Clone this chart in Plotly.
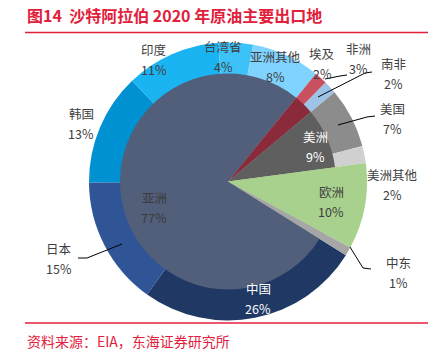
import plotly.graph_objects as go

# ---- data ----
inner_labels = ['亚洲', '非洲', '美洲', '欧洲', '中东']
inner_values = [77, 3, 9, 10, 1]
inner_text = ['77%', '3%', '9%', '10%', '1%']

outer_labels = ['中国', '日本', '韩国', '印度', '台湾省', '亚洲其他',
                '埃及', '南非', '美国', '美洲其他', '欧洲', '中东']
outer_values = [26, 15, 13, 11, 4, 8, 1.5, 1.5, 7, 2, 10, 1]
outer_text = ['26%', '15%', '13%', '11%', '4%', '8%',
              '2%', '2%', '7%', '2%', '10%', '1%']

# ---- styles ----
inner_colors = ['#515F7B', '#8B2A3A', '#5F5F5F', '#A9D18E', '#A6A6A6']
outer_colors = ['#1F3864', '#2F5597', '#0091D2', '#1AB4F2', '#3CC2F7', '#7FD3FF',
                '#C8505F', '#9DC3E6', '#8C8C8C', '#D0D0D0', '#A9D18E', '#A6A6A6']

RED = '#E2203B'
TXT = '#404040'
FONT = 'Noto Sans CJK SC'

# label positions in pixels (name line centre)
label_pos = {
    '印度': (154, 49, TXT), '台湾省': (223, 46, TXT), '亚洲其他': (275, 56, TXT),
    '埃及': (322, 53, TXT), '非洲': (358, 48, TXT), '南非': (393, 63, TXT),
    '美国': (392, 108, TXT), '美洲': (315, 136, 'white'), '美洲其他': (392, 174, TXT),
    '欧洲': (331, 191, TXT), '中东': (398, 262, TXT), '中国': (258, 288, 'white'),
    '日本': (59, 248, TXT), '韩国': (81, 113, TXT), '亚洲': (154, 197, '#3A3A3A'),
}
leaders = [
    'M 78 258 L 87 258 L 122 244',
    'M 350 247 L 363 268 L 371 269',
    'M 372 72 L 365 73 L 318 97',
    'M 347 75 L 340 76 L 325 79',
    'M 375 116 L 367 117 L 338 125',
]

W, H = 445, 356
cx, cy, R_out, R_in = 228, 181.5, 139, 108


def dom(r):
    return dict(x=[(cx - r) / W, (cx + r) / W], y=[(H - cy - r) / H, (H - cy + r) / H])


fig = go.Figure()
fig.add_trace(go.Pie(labels=outer_labels, values=outer_values, sort=False,
                     direction='clockwise', rotation=122, textinfo='none',
                     marker=dict(colors=outer_colors, line=dict(width=0)),
                     domain=dom(R_out), showlegend=False, hoverinfo='label+text',
                     text=outer_text))
fig.add_trace(go.Pie(labels=inner_labels, values=inner_values, sort=False,
                     direction='clockwise', rotation=122, textinfo='none',
                     marker=dict(colors=inner_colors, line=dict(width=0)),
                     domain=dom(R_in), showlegend=False, hoverinfo='label+text',
                     text=inner_text))

pct = dict(zip(outer_labels, outer_text))
pct.update(dict(zip(inner_labels, inner_text)))

ann = []
for name, (x, y, col) in label_pos.items():
    ann.append(dict(x=x, y=y, xref='x', yref='y', text=name, showarrow=False,
                    font=dict(family=FONT, size=12.5, color=col)))
    ann.append(dict(x=x, y=y + 20.5, xref='x', yref='y', text=pct[name], showarrow=False,
                    font=dict(family=FONT, size=12.5, color=col)))

ann.append(dict(x=25, y=15, xref='x', yref='y', xanchor='left', showarrow=False,
                text='<b>图14  沙特阿拉伯 2020 年原油主要出口地</b>',
                font=dict(family=FONT, size=16, color=RED)))
ann.append(dict(x=25, y=341, xref='x', yref='y', xanchor='left', showarrow=False,
                text='资料来源：EIA，东海证券研究所',
                font=dict(family=FONT, size=14, color=RED)))

shapes = [dict(type='path', path=p, xref='x', yref='y',
               line=dict(color='black', width=1)) for p in leaders]
shapes.append(dict(type='line', x0=25, x1=428, y0=32.5, y1=32.5, xref='x', yref='y',
                   line=dict(color=RED, width=1.5)))
shapes.append(dict(type='line', x0=25, x1=428, y0=323, y1=323, xref='x', yref='y',
                   line=dict(color=RED, width=1.5)))

fig.update_layout(
    width=W, height=H, margin=dict(l=0, r=0, t=0, b=0),
    paper_bgcolor='white', plot_bgcolor='rgba(0,0,0,0)',
    xaxis=dict(range=[0, W], visible=False, fixedrange=True),
    yaxis=dict(range=[H, 0], visible=False, fixedrange=True),
    annotations=ann, shapes=shapes,
)
fig.write_html('out.html', config={'displayModeBar': False},
               post_script="document.body.style.margin='0';document.body.style.overflow='hidden';")
